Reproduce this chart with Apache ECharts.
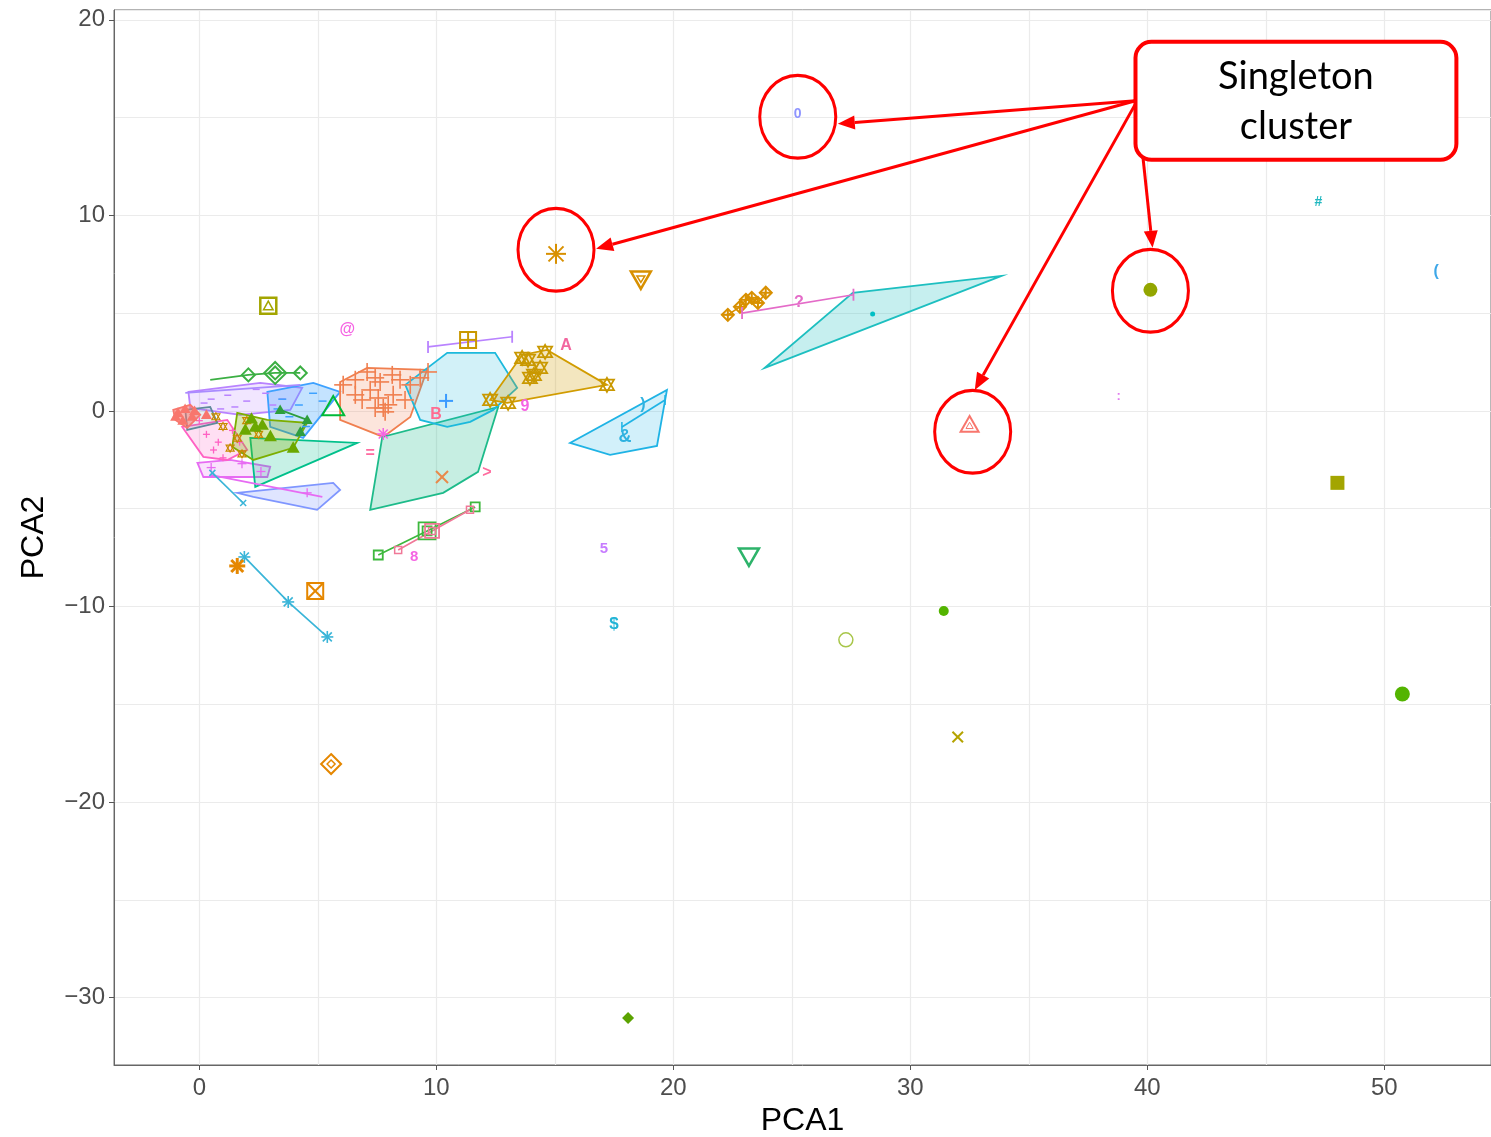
<!DOCTYPE html>
<html><head><meta charset="utf-8">
<script src="https://cdn.jsdelivr.net/npm/echarts@6/dist/echarts.min.js"></script>
<style>html,body{margin:0;padding:0;background:#fff}#main{width:1491px;height:1137px}</style>
</head><body><div id="main"></div>
<script>
// ================= DATA =================
const xRange = [-3.6, 54.5];
const yRange = [-33.45, 20.5];
const xMajorTicks = [0, 10, 20, 30, 40, 50];
const yMajorTicks = [-30, -20, -10, 0, 10, 20];

// convex hulls of clusters
const hullRed = [[-1.1,0.05],[-0.38,0.31],[0.04,-0.2],[-0.51,-0.87],[-1.01,-0.46]];
const hullPurple = [[-0.46,0.97],[2.57,1.43],[4.34,1.18],[3.84,0.05],[1.73,-0.2],[-0.38,0.15]];
const hullBlue = [[2.87,0.97],[4.81,1.43],[5.94,0.97],[4.38,-1.38],[2.99,-0.82]];
const hullSlate = [[-0.59,0.05],[0.46,0.2],[0.76,-0.61],[-0.51,-0.97]];
const hullPink = [[-0.72,-0.82],[0.17,-2.35],[1.18,-2.51],[2.02,-1.99],[1.18,-0.46]];
const hullOlive = [[1.6,-0.1],[2.87,-0.46],[4.55,-0.61],[3.96,-1.89],[2.28,-2.51],[1.39,-1.84]];
const hullLightGreen = [[2.15,-1.38],[6.66,-1.64],[2.36,-3.89]];
const hullMagenta = [[-0.08,-2.66],[1.31,-2.51],[2.99,-2.86],[2.87,-3.38],[0.17,-3.38]];
const hullLavender = [[1.6,-4.19],[5.65,-3.68],[5.94,-4.04],[4.97,-5.06],[2.28,-4.4]];
const hullSalmon = [[5.94,1.48],[7.08,2.2],[9.61,2.1],[8.9,-0.31],[7.76,-1.33],[5.94,-0.46]];
const hullCyan = [[8.69,1.33],[10.46,2.97],[12.48,2.97],[13.41,1.18],[12.4,0.05],[11.43,-0.56],[10.46,-0.82],[9.32,-0.46]];
const hullGreenQuad = [[7.21,-5.06],[7.72,-1.33],[12.61,0.2],[11.76,-3.12],[10.29,-4.19]];
const hullGold = [[12.27,0.56],[13.62,2.86],[14.67,3.12],[17.2,1.33],[12.99,0.41]];
const hullSky = [[15.64,-1.64],[17.33,-2.25],[19.31,-1.79],[19.73,1.07]];
const hullTeal = [[23.86,2.2],[33.85,6.9],[27.57,6.04]];

// two/three point clusters drawn as paths
const pathGreenDiamond = [[0.46,1.59],[2.07,1.84],[3.2,1.94],[4.26,1.94]];
const pathViolet = [[-0.59,0.92],[4.26,1.33]];
const pathMagenta = [[0.46,-3.27],[5.19,-4.4]];
const pathSkyShort = [[0.55,-3.17],[1.85,-4.71]];
const pathPurpleBar = [[9.65,3.27],[13.2,3.79]];
const pathGoldDiamond = [[22.3,4.91],[22.81,5.32],[23.06,5.68],[23.31,5.78],[23.57,5.52],[23.9,6.04]];
const pathPinkQ = [[22.9,5.0],[27.6,5.94]];
const pathSkyInner = [[17.83,-0.82],[19.65,0.56]];
const pathSkyDiag = [[1.9,-7.47],[3.75,-9.77],[5.4,-11.56]];
const pathGreenSquare = [[7.55,-7.37],[9.61,-6.14],[11.64,-4.91]];
const pathPinkSquare = [[8.39,-7.11],[9.82,-6.14],[11.42,-5.06]];
const pathDarkGreenTri = [[3.41,0.05],[4.55,-0.46],[4.26,-1.07]];

// cluster members
const ptsSalmonPlus = [[6.07,1.33],[6.58,1.59],[7.08,1.99],[7.42,1.69],[7.21,1.07],[7.55,0.66],[7.76,0.15],[7.97,0.31],[8.18,0.82],[8.47,1.59],[8.9,1.33],[9.32,1.69],[9.65,1.99],[7.84,-0.05],[7.42,0.15],[6.58,0.82],[7.63,1.48],[8.14,1.84],[8.68,0.56],[6.87,0.56]];
const ptsGoldStar6 = [[13.62,2.71],[13.87,2.61],[14.12,1.84],[14.38,2.2],[14.59,3.02],[17.2,1.33],[12.27,0.56],[13.03,0.41],[13.95,1.69]];
const ptsRedTri = [[-0.9,-0.1],[-0.6,0.1],[-0.3,-0.3],[-0.7,-0.5],[-0.2,0.0],[-1.0,-0.3],[0.3,-0.2]];
const ptsOliveTri = [[2.36,-0.82],[2.66,-0.72],[3.96,-1.89],[1.94,-0.97],[2.2,-0.4],[3.0,-1.3]];
const ptsPurpleSmall = [[0.5,0.6],[1.2,0.8],[2.0,0.5],[2.8,0.9],[3.5,0.6],[1.5,0.2],[0.2,0.4],[2.4,1.1],[3.1,0.3],[0.9,0.1]];
const ptsPinkSmall = [[0.3,-1.2],[0.8,-1.6],[1.4,-1.0],[0.6,-2.0],[0.0,-0.5],[1.0,-2.4],[1.7,-1.6]];
const ptsBrownSmall = [[1.0,-0.8],[1.6,-1.4],[2.0,-0.5],[1.3,-1.9],[1.8,-2.2],[2.5,-1.2],[0.7,-0.3]];
const ptsBlueSmall = [[3.5,0.6],[4.2,0.3],[4.8,0.9],[3.8,-0.3],[5.2,0.5],[4.5,-0.8],[3.3,0.1]];
const ptsMagentaSmall = [[0.5,-2.9],[1.8,-2.7],[2.6,-3.1],[4.55,-4.19]];

// singleton / isolated points
const singletonXY = [
  [25.25,15.19],[15.05,8.03],[18.63,6.75],[2.91,5.37],[6.24,4.14],[11.34,3.63],[15.47,3.32],
  [47.22,10.69],[52.19,7.11],[40.13,6.19],[38.79,0.72],[32.5,-0.72],[48.02,-3.68],[23.19,-7.42],
  [17.07,-7.06],[17.5,-10.9],[27.28,-11.71],[31.41,-10.23],[50.76,-14.48],[32.0,-16.68],[5.56,-18.06],
  [18.09,-31.05],[9.06,-7.47],[10.24,-3.38],[12.14,-3.17],[7.21,-2.2],[9.99,-0.2],[13.74,0.2],
  [17.96,-1.33],[10.41,0.51],[25.3,5.52],[28.41,4.96],[1.6,-7.93],[4.89,-9.21],[7.76,-1.18],
  [18.72,0.31],[5.65,0.2]
];

// annotation (callout) anchors in data units
const calloutCircles = [[25.25,15.04],[15.05,8.24],[40.13,6.14],[32.63,-1.07]];
const calloutArrows = [[39.5,15.86,26.94,14.68],[39.5,15.86,16.74,8.29],[39.5,15.7,32.72,1.07],[39.67,14.63,40.22,8.34]];
const calloutBox = [39.5, 18.87, 53.04, 12.84];
const calloutText = ['Singleton', 'cluster'];

// ================= STYLE =================
const FONT = '"Liberation Sans", Arial, Helvetica, sans-serif';
const singletonStyle = [
  {k:'text',t:'0',c:'#8F95FF',s:14},{k:'asterisk',c:'#D89000',s:20,w:2},{k:'triDownDot',c:'#D89000',s:20,w:2.5},
  {k:'squareTri',c:'#A3A500',s:16,w:2.5},{k:'text',t:'@',c:'#F564E3',s:16},{k:'squarePlus',c:'#C99800',s:16,w:2},
  {k:'text',t:'A',c:'#F2669F',s:16},{k:'text',t:'#',c:'#22B8C0',s:14},{k:'text',t:'(',c:'#3DA7E8',s:16},
  {k:'dot',c:'#93A600',s:14},{k:'text',t:':',c:'#E27BEF',s:13},{k:'triIn',c:'#F8766D',s:18,w:2},
  {k:'square',c:'#A3A500',s:14},{k:'triDown',c:'#2DB36A',s:20,w:2.5},{k:'text',t:'5',c:'#C77CFF',s:15},
  {k:'text',t:'$',c:'#22B4D6',s:17},{k:'ring',c:'#A8C64A',s:14,w:1.5},{k:'dot',c:'#53B400',s:10},
  {k:'dot',c:'#53B400',s:15},{k:'cross',c:'#B5A300',s:14,w:2},{k:'diamondIn',c:'#E58700',s:20,w:2},
  {k:'diamondFill',c:'#5BA300',s:12},{k:'text',t:'8',c:'#F564E3',s:15},{k:'cross',c:'#E9894A',s:16,w:2},
  {k:'text',t:'>',c:'#FF6C9F',s:16},{k:'text',t:'=',c:'#FF6AA0',s:16},{k:'text',t:'B',c:'#FF6C91',s:16},
  {k:'text',t:'9',c:'#F564E3',s:16},{k:'text',t:'&',c:'#2FB2E0',s:18},{k:'plus',c:'#3A9BFF',s:14,w:2},
  {k:'text',t:'?',c:'#E46BC8',s:16},{k:'dot',c:'#00BFC4',s:5},{k:'asterisk',c:'#E58700',s:16,w:3},
  {k:'squareX',c:'#E58700',s:16,w:2},{k:'asterisk',c:'#F564E3',s:12,w:1.5},{k:'text',t:')',c:'#2FB2E0',s:16},
  {k:'tri',c:'#00BA38',s:22,w:2}
];

const hullLayers = [
  {d:hullLavender,c:'#7F96FF',a:0.25},{d:hullMagenta,c:'#E76BF3',a:0.2},{d:hullPink,c:'#FF61C3',a:0.2},
  {d:hullLightGreen,c:'#00C08B',a:0.22},{d:hullPurple,c:'#B983FF',a:0.2},{d:hullBlue,c:'#3DA1FF',a:0.3},
  {d:hullOlive,c:'#7CAE00',a:0.3},{d:hullSlate,c:'#5F8A9B',a:0.15},{d:hullRed,c:'#F8766D',a:0.55},
  {d:hullSalmon,c:'#F07F4F',a:0.2},{d:hullGreenQuad,c:'#1DBB8A',a:0.25},{d:hullCyan,c:'#1CB9DC',a:0.2},
  {d:hullGold,c:'#D19C00',a:0.25},{d:hullSky,c:'#1FB3E5',a:0.2},{d:hullTeal,c:'#1DBFC0',a:0.25}
];
const pathLayers = [
  {d:pathGreenDiamond,c:'#3BAF43'},{d:pathViolet,c:'#A98BFF'},{d:pathMagenta,c:'#E76BF3'},
  {d:pathSkyShort,c:'#3AB5D8'},{d:pathPurpleBar,c:'#B983FF'},{d:pathGoldDiamond,c:'#D89000'},
  {d:pathPinkQ,c:'#E46BC8'},{d:pathSkyInner,c:'#1FB3E5'},{d:pathSkyDiag,c:'#3AB5D8'},
  {d:pathGreenSquare,c:'#3DB83D'},{d:pathPinkSquare,c:'#F07898'},{d:pathDarkGreenTri,c:'#2E9E3E'}
];
const markerLayers = [
  {d:ptsPurpleSmall,k:'dash',c:'#B983FF',s:7,w:1.5},{d:ptsPinkSmall,k:'plus',c:'#FF61C3',s:7,w:1.3},
  {d:ptsBrownSmall,k:'star6',c:'#C88A00',s:8,w:1.2},{d:ptsBlueSmall,k:'dash',c:'#3DA1FF',s:8,w:1.5},
  {d:ptsMagentaSmall,k:'plus',c:'#E76BF3',s:9,w:1.3},{d:ptsRedTri,k:'triFill',c:'#F8766D',s:11},
  {d:ptsOliveTri,k:'triFill',c:'#6BA800',s:13},{d:pathDarkGreenTri,k:'triFill',c:'#2E9E3E',s:11},
  {d:ptsSalmonPlus,k:'plus',c:'#F07F4F',s:18,w:1.6},{d:ptsGoldStar6,k:'star6',c:'#C99800',s:14,w:1.8},
  {d:pathGoldDiamond,k:'diamondPlus',c:'#D89000',s:12,w:2},{d:pathGreenDiamond.slice(1),k:'diamond',c:'#3BAF43',s:13,w:2},
  {d:pathGreenDiamond.slice(2,3),k:'diamond',c:'#3BAF43',s:22,w:2},
  {d:pathPurpleBar,k:'bar',c:'#B983FF',s:12,w:1.8},{d:pathPinkQ,k:'bar',c:'#E46BC8',s:12,w:1.8},
  {d:pathSkyDiag,k:'asterisk',c:'#3AB5D8',s:12,w:1.6},{d:pathSkyShort,k:'cross',c:'#3AB5D8',s:8,w:1.5},
  {d:pathGreenSquare,k:'squareOpen',c:'#3DB83D',s:9,w:1.8},{d:pathGreenSquare.slice(1,2),k:'squareOpen',c:'#3DB83D',s:17,w:1.8},
  {d:pathPinkSquare,k:'squareOpen',c:'#F07898',s:7,w:1.5},{d:pathPinkSquare.slice(1,2),k:'squareOpen',c:'#F07898',s:14,w:1.8},
  {d:pathSkyInner,k:'bar',c:'#1FB3E5',s:10,w:1.5}
];

function rgba(hex, a) {
  const n = parseInt(hex.slice(1), 16);
  return 'rgba(' + ((n >> 16) & 255) + ',' + ((n >> 8) & 255) + ',' + (n & 255) + ',' + a + ')';
}

function mk(kind, x, y, s, c, lw) {
  const h = s / 2; lw = lw || 1.8;
  const st = {stroke: c, lineWidth: lw, fill: 'none'};
  const fl = {fill: c};
  const L = (x1, y1, x2, y2) => ({type: 'line', shape: {x1, y1, x2, y2}, style: {stroke: c, lineWidth: lw}});
  const triUp = [[x, y - h], [x + h, y + h * 0.75], [x - h, y + h * 0.75]];
  const triDn = [[x, y + h], [x + h, y - h * 0.75], [x - h, y - h * 0.75]];
  const dia = (r) => [[x, y - r], [x + r, y], [x, y + r], [x - r, y]];
  const rect = {type: 'rect', shape: {x: x - h, y: y - h, width: s, height: s}, style: st};
  const g = (ch) => ({type: 'group', children: ch});
  const d = h * 0.75;
  switch (kind) {
    case 'dot': return {type: 'circle', shape: {cx: x, cy: y, r: h}, style: fl};
    case 'ring': return {type: 'circle', shape: {cx: x, cy: y, r: h}, style: st};
    case 'tri': return {type: 'polygon', shape: {points: triUp}, style: st};
    case 'triIn': return g([{type: 'polygon', shape: {points: triUp}, style: st},
      {type: 'polygon', shape: {points: [[x, y - h * 0.3], [x + h * 0.4, y + h * 0.4], [x - h * 0.4, y + h * 0.4]]}, style: {stroke: c, lineWidth: 1, fill: 'none'}}]);
    case 'triFill': return {type: 'polygon', shape: {points: triUp}, style: fl};
    case 'triDown': return {type: 'polygon', shape: {points: triDn}, style: st};
    case 'triDownDot': return g([{type: 'polygon', shape: {points: triDn}, style: st},
      {type: 'polygon', shape: {points: [[x, y + h * 0.35], [x + h * 0.4, y - h * 0.3], [x - h * 0.4, y - h * 0.3]]}, style: {stroke: c, lineWidth: 1.5, fill: 'none'}}]);
    case 'square': return {type: 'rect', shape: {x: x - h, y: y - h, width: s, height: s}, style: fl};
    case 'squareOpen': return rect;
    case 'squareX': return g([rect, L(x - h, y - h, x + h, y + h), L(x - h, y + h, x + h, y - h)]);
    case 'squarePlus': return g([rect, L(x - h, y, x + h, y), L(x, y - h, x, y + h)]);
    case 'squareTri': return g([rect, {type: 'polygon', shape: {points: [[x, y - h * 0.6], [x + h * 0.6, y + h * 0.5], [x - h * 0.6, y + h * 0.5]]}, style: {stroke: c, lineWidth: 1.5, fill: 'none'}}]);
    case 'plus': return g([L(x - h, y, x + h, y), L(x, y - h, x, y + h)]);
    case 'cross': return g([L(x - d, y - d, x + d, y + d), L(x - d, y + d, x + d, y - d)]);
    case 'asterisk': return g([L(x - h, y, x + h, y), L(x, y - h, x, y + h), L(x - d, y - d, x + d, y + d), L(x - d, y + d, x + d, y - d)]);
    case 'diamond': return {type: 'polygon', shape: {points: dia(h)}, style: st};
    case 'diamondFill': return {type: 'polygon', shape: {points: dia(h)}, style: fl};
    case 'diamondIn': return g([{type: 'polygon', shape: {points: dia(h)}, style: st},
      {type: 'polygon', shape: {points: dia(h * 0.4)}, style: {stroke: c, lineWidth: 1.5, fill: 'none'}}]);
    case 'diamondPlus': return g([{type: 'polygon', shape: {points: dia(h)}, style: st}, L(x - h, y, x + h, y), L(x, y - h, x, y + h)]);
    case 'star6': return g([{type: 'polygon', shape: {points: triUp}, style: st}, {type: 'polygon', shape: {points: triDn}, style: st}]);
    case 'bar': return L(x, y - h, x, y + h);
    case 'dash': return L(x - h, y, x + h, y);
  }
  return null;
}

function hullSeries(pts, color, alpha) {
  return {
    type: 'custom', coordinateSystem: 'cartesian2d', xAxisIndex: 0, yAxisIndex: 0, silent: true, z: 2,
    data: pts,
    renderItem: (p, api) => {
      if (p.dataIndex !== 0) return null;
      const points = pts.map(q => api.coord(q));
      return {type: 'polygon', shape: {points}, style: {fill: rgba(color, alpha), stroke: color, lineWidth: 1.8}};
    }
  };
}
function markerSeries(pts, kind, color, size, lw) {
  return {
    type: 'custom', coordinateSystem: 'cartesian2d', xAxisIndex: 0, yAxisIndex: 0, silent: true, z: 4,
    data: pts,
    renderItem: (p, api) => {
      const c = api.coord([api.value(0), api.value(1)]);
      return mk(kind, c[0], c[1], size, color, lw);
    }
  };
}

const series = [];
hullLayers.forEach(l => series.push(hullSeries(l.d, l.c, l.a)));
pathLayers.forEach(l => series.push({
  type: 'line', xAxisIndex: 0, yAxisIndex: 0, data: l.d, showSymbol: false, symbol: 'none',
  lineStyle: {color: l.c, width: 1.7}, silent: true, z: 3
}));
markerLayers.forEach(l => series.push(markerSeries(l.d, l.k, l.c, l.s, l.w)));

series.push({
  type: 'custom', coordinateSystem: 'cartesian2d', xAxisIndex: 0, yAxisIndex: 0, silent: true, z: 5,
  data: singletonXY,
  renderItem: (p, api) => {
    const c = api.coord([api.value(0), api.value(1)]);
    const s = singletonStyle[p.dataIndex];
    if (s.k === 'text') {
      return {type: 'text', style: {text: s.t, x: c[0], y: c[1], fill: s.c, align: 'center', verticalAlign: 'middle',
        font: 'bold ' + s.s + 'px ' + FONT}};
    }
    return mk(s.k, c[0], c[1], s.s, s.c, s.w);
  }
});

// callouts
const RED = '#FF0000';
series.push({
  type: 'custom', coordinateSystem: 'cartesian2d', silent: true, z: 10, data: calloutCircles,
  renderItem: (p, api) => {
    const c = api.coord([api.value(0), api.value(1)]);
    return {type: 'circle', x: c[0], y: c[1], scaleY: 1.09, shape: {cx: 0, cy: 0, r: 38},
      style: {fill: 'none', stroke: RED, lineWidth: 3}};
  }
});
series.push({
  type: 'custom', coordinateSystem: 'cartesian2d', silent: true, z: 10, data: calloutArrows,
  encode: {x: [0, 2], y: [1, 3]},
  renderItem: (p, api) => {
    const a = api.coord([api.value(0), api.value(1)]);
    const b = api.coord([api.value(2), api.value(3)]);
    const dx = b[0] - a[0], dy = b[1] - a[1], len = Math.hypot(dx, dy), ux = dx / len, uy = dy / len;
    const hl = 17, hw = 7, bx = b[0] - ux * hl, by = b[1] - uy * hl;
    return {type: 'group', children: [
      {type: 'line', shape: {x1: a[0], y1: a[1], x2: bx, y2: by}, style: {stroke: RED, lineWidth: 3}},
      {type: 'polygon', shape: {points: [b, [bx - uy * hw, by + ux * hw], [bx + uy * hw, by - ux * hw]]}, style: {fill: RED}}
    ]};
  }
});
series.push({
  type: 'custom', coordinateSystem: 'cartesian2d', silent: true, z: 11, data: [calloutBox],
  encode: {x: [0, 2], y: [1, 3]},
  renderItem: (p, api) => {
    const a = api.coord([api.value(0), api.value(1)]);
    const b = api.coord([api.value(2), api.value(3)]);
    const cx = (a[0] + b[0]) / 2, cy = (a[1] + b[1]) / 2;
    return {type: 'group', children: [
      {type: 'rect', shape: {x: a[0], y: a[1], width: b[0] - a[0], height: b[1] - a[1], r: 16},
        style: {fill: '#fff', stroke: RED, lineWidth: 4}},
      {type: 'text', style: {text: calloutText[0], x: cx, y: cy - 24, align: 'center', verticalAlign: 'middle',
        fill: '#000', font: '38px Lato, "Open Sans", sans-serif'}},
      {type: 'text', style: {text: calloutText[1], x: cx, y: cy + 26, align: 'center', verticalAlign: 'middle',
        fill: '#000', font: '38px Lato, "Open Sans", sans-serif'}}
    ]};
  }
});

const fmt = (ticks) => (v) => {
  const r = Math.round(v);
  if (Math.abs(v - r) > 1e-6 || ticks.indexOf(r) < 0) return '';
  return r < 0 ? '\u2212' + Math.abs(r) : String(r);
};
const gridLine = {show: true, lineStyle: {color: '#EBEBEB', width: 1.2}};
const labelStyle = {color: '#4D4D4D', fontSize: 24, fontFamily: FONT};
const tickStyle = {show: true, length: 5, lineStyle: {color: '#555', width: 1}};

const option = {
  animation: false,
  backgroundColor: '#fff',
  grid: {left: 114, right: 0, top: 10, bottom: 72, show: true, borderColor: '#666', borderWidth: 1,
    backgroundColor: '#fff', containLabel: false, outerBoundsMode: 'none'},
  xAxis: [
    {type: 'value', min: xRange[0], max: xRange[1], splitNumber: 12, axisLine: {show: false}, axisTick: {show: false},
      axisLabel: {show: false}, splitLine: gridLine},
    {type: 'value', position: 'bottom', min: xRange[0], max: xRange[1], splitNumber: 6,
      axisLine: {show: true, onZero: false, lineStyle: {color: '#666'}},
      axisTick: Object.assign({customValues: xMajorTicks}, tickStyle),
      axisLabel: Object.assign({customValues: xMajorTicks, formatter: fmt(xMajorTicks), margin: 11}, labelStyle),
      splitLine: {show: false},
      name: 'PCA1', nameLocation: 'middle', nameGap: 40,
      nameTextStyle: {color: '#000', fontSize: 32, fontFamily: FONT}}
  ],
  yAxis: [
    {type: 'value', min: yRange[0], max: yRange[1], splitNumber: 11, axisLine: {show: false}, axisTick: {show: false},
      axisLabel: {show: false}, splitLine: gridLine},
    {type: 'value', position: 'left', min: yRange[0], max: yRange[1], splitNumber: 5,
      axisLine: {show: true, onZero: false, lineStyle: {color: '#666'}},
      axisTick: Object.assign({customValues: yMajorTicks}, tickStyle),
      axisLabel: Object.assign({customValues: yMajorTicks, formatter: fmt(yMajorTicks), margin: 9}, labelStyle),
      splitLine: {show: false},
      name: 'PCA2', nameLocation: 'middle', nameGap: 64,
      nameTextStyle: {color: '#000', fontSize: 32, fontFamily: FONT}}
  ],
  series: series
};
const chart = echarts.init(document.getElementById('main'));
chart.setOption(option);
</script>
</body></html>
